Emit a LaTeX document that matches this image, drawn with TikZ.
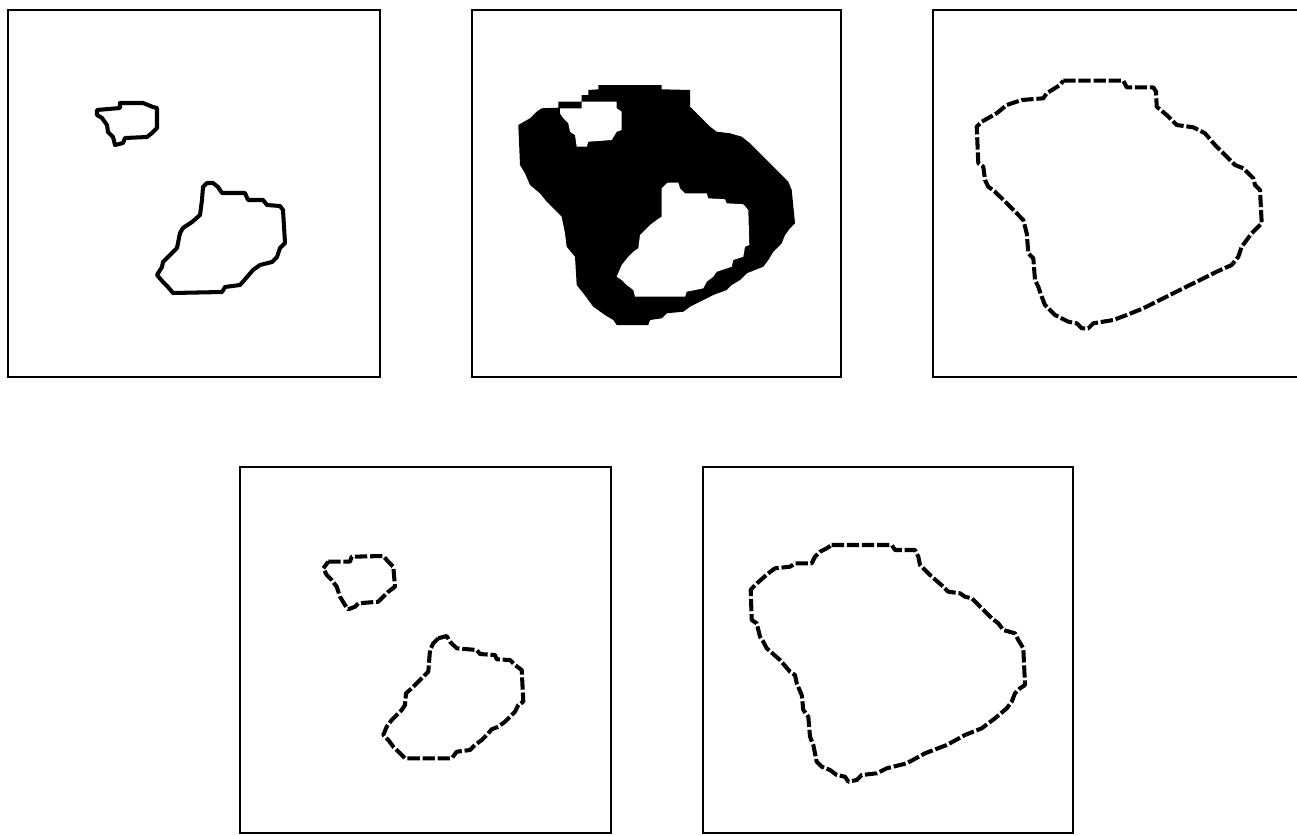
\documentclass[tikz,border=0pt]{standalone}
\usepackage{tikz}
\usetikzlibrary{calc}
\tikzset{
  imgframe/.style={draw=black, line width=1.1pt},
  contour/.style={draw=black, line width=2.3pt, line join=round},
  dotcontour/.style={contour, dash pattern=on 7pt off 1.6pt},
  blob/.style={fill=black},
  hole/.style={fill=white},
}
\begin{document}
\begin{tikzpicture}[x=0.02cm, y=-0.02cm]
  \useasboundingbox (0,0) rectangle (1297,835);
  % frames
  \draw[imgframe] (8,10) rectangle (380,377);
  \draw[imgframe] (472,10) rectangle (841,377);
  \draw[imgframe] (1297,10) -- (933,10) -- (933,377) -- (1297,377);
  \draw[imgframe] (240,467) rectangle (611,833);
  \draw[imgframe] (703,467) rectangle (1073,833);
  % panel 1: two regions
  \draw[contour] (97,110) -- (120,108) -- (120,103) -- (143,103) -- (153,107) -- (157,108)
    -- (157,128) -- (152,133) -- (147,137) -- (125,138) -- (123,143) -- (115,145)
    -- (113,137) -- (108,132) -- (107,125) -- (102,118) -- (97,115) -- cycle;
  \draw[contour] (207,183) -- (213,183) -- (218,187) -- (222,193) -- (245,193) -- (248,200)
    -- (263,200) -- (267,205) -- (280,206) -- (283,210) -- (285,243) -- (280,248)
    -- (277,257) -- (272,262) -- (260,265) -- (253,270) -- (247,277) -- (240,285)
    -- (225,287) -- (222,292) -- (173,293) -- (168,287) -- (163,282) -- (157,275)
    -- (162,267) -- (163,262) -- (172,253) -- (177,248) -- (180,233) -- (183,228)
    -- (192,222) -- (200,215) -- (202,200) -- (203,187) -- cycle;
  % panel 2: filled band with two holes
  \fill[blob] (588.3,90) -- (598.3,89.3) -- (598.3,85) -- (661.7,85) -- (661.7,89.3)
    -- (690,90) -- (690,106.7) -- (696.7,113.3) -- (703.3,120) -- (710,126.7)
    -- (716.7,131.7) -- (730,133.3) -- (741.7,136.7) -- (750,143.3) -- (760,153.3)
    -- (770,163.3) -- (780,173.3) -- (788.3,181.7) -- (791.7,190) -- (795,223.3)
    -- (790,228.3) -- (785,235) -- (781.7,243.3) -- (773.3,251.7) -- (768.3,260)
    -- (763.3,266.7) -- (746.7,273.3) -- (740,280) -- (731.7,285) -- (726.7,290)
    -- (713.3,295) -- (700,301.7) -- (690,306.7) -- (683.3,311.7) -- (666.7,313.3)
    -- (661.7,318.3) -- (650,320) -- (648.3,325) -- (616.7,325) -- (613.3,320)
    -- (605,315) -- (593.3,306.7) -- (583.3,293.3)
    -- (576.7,285) -- (575,256.7) -- (566.7,246.7) -- (565,233.3) -- (561.7,216.7)
    -- (555,210) -- (546.7,201.7) -- (540,193.3) -- (530,185) -- (525,173.3)
    -- (520,165) -- (518.3,125) -- (530,118.3) -- (536.7,111.7) -- (541.7,108.3)
    -- (558.3,107.7) -- (558.3,101.7) -- (581.7,101.7) -- (581.7,95) -- (588.3,95) -- cycle;
  \fill[hole] (560,108.3) -- (581.7,108.3) -- (581.7,101.7) -- (616.7,101.7) -- (616.7,108.3)
    -- (621.7,111.7) -- (621.7,130) -- (616.7,131.7) -- (611.7,140) -- (588.3,141.7)
    -- (586.7,146.7) -- (576.7,146.7) -- (575,135) -- (570,131.7) -- (568.3,123.3)
    -- (563.3,118.3) -- (560,113.3) -- cycle;
  \fill[hole] (666.7,183.3) -- (668.3,182.7) -- (678.3,182.7) -- (680,188.3) -- (685,193.3)
    -- (706.7,193.3) -- (708.3,198.3) -- (725,199.3) -- (726.7,203.3) -- (743.3,204.3)
    -- (748.3,210) -- (749.3,245) -- (745,246.7) -- (743.3,256.7) -- (733.3,260)
    -- (731.7,266.7) -- (716.7,271.7) -- (713.3,276.7) -- (706.7,281.7) -- (703.3,288.3)
    -- (686.7,291.7) -- (685,296.7) -- (635,296.7) -- (633.3,290) -- (626.7,285)
    -- (621.7,280) -- (616.7,276.7) -- (621.7,265) -- (628.3,256.7) -- (633.3,251.7)
    -- (638.3,248.3) -- (640,235) -- (645,230) -- (650,225) -- (656.7,220)
    -- (661.7,216.7) -- (661.7,188.3) -- cycle;
  % panel 3: outer contour
  \draw[dotcontour] (1063.3,80.7) -- (1123.3,80.7) -- (1126.7,87.3) -- (1153.3,87.3)
    -- (1156,91.7) -- (1156.7,106.7) -- (1166.7,115) -- (1176.7,125) -- (1193.3,127.3)
    -- (1205,133.3) -- (1215,145) -- (1225,155) -- (1235,165) -- (1243.3,168.3)
    -- (1253.3,178.3) -- (1255,185) -- (1260,190) -- (1261.7,223.3) -- (1251.7,233.3)
    -- (1246.7,240) -- (1241.7,246.7) -- (1238.3,256.7) -- (1231.7,265) -- (1216.7,271.7)
    -- (1200,280) -- (1183.3,288.3) -- (1163.3,298.3) -- (1143.3,308.3) -- (1126.7,315)
    -- (1113.3,320) -- (1093.3,323.3) -- (1088.3,328.3) -- (1081.7,328.3) -- (1076.7,323.3)
    -- (1068.3,321.7) -- (1055,315) -- (1045,305) -- (1041.7,296.7) -- (1038.3,286.7)
    -- (1035,280) -- (1033.3,258.3) -- (1028.3,253.3) -- (1026.7,233.3) -- (1023.3,220)
    -- (1016.7,213.3) -- (1006.7,203.3) -- (995,191.7) -- (988.3,186.7) -- (985,180)
    -- (983.3,166.7) -- (978.3,163.3) -- (976.7,126.7) -- (981.7,121.7) -- (996.7,113.3)
    -- (1006.7,105) -- (1021.7,100) -- (1043.3,98.3) -- (1046.7,93.3) -- (1060,85) -- cycle;
  % panel 4: two regions again
  \draw[dotcontour] (328.3,561.7) -- (350,561.7) -- (351.7,556.7) -- (383.3,556)
    -- (388.3,561.7) -- (393.3,566.7) -- (395,586.7) -- (388.3,591.7) -- (383.3,596.7)
    -- (378.3,601.7) -- (358.3,603.3) -- (355,606.7) -- (348.3,609.3) -- (345,605)
    -- (340,596.7) -- (336.7,586.7) -- (331.7,580) -- (326.7,575) -- (323.3,568.3) -- cycle;
  \draw[dotcontour] (438.3,638.3) -- (446.7,636) -- (450,641.7) -- (456.7,648.3)
    -- (476.7,650) -- (480,654) -- (495,655) -- (496.7,659.3) -- (510,660) -- (515,665)
    -- (521.7,670) -- (523.3,701.7) -- (518.3,705) -- (515,711.7) -- (510,716.7)
    -- (505,721.7) -- (498.3,726.7) -- (491.7,729.3) -- (486.7,735) -- (481.7,740)
    -- (475,745) -- (470,750) -- (456.7,751.7) -- (451.7,758.3) -- (405,758.3)
    -- (400,753.3) -- (393.3,746.7) -- (388.3,740) -- (383.3,735) -- (386.7,726.7)
    -- (391.7,720) -- (396.7,715) -- (401.7,710) -- (405,705) -- (406,693.3)
    -- (411.7,688.3) -- (416.7,683.3) -- (421.7,678.3) -- (428.3,671.7) -- (430,650)
    -- (433.3,643.3) -- cycle;
  % panel 5: outer contour again
  \draw[dotcontour] (831.7,545) -- (891.7,545) -- (895,550) -- (915,550) -- (918.3,556.7)
    -- (920,565) -- (930,575) -- (943.3,586.7) -- (948.3,591.7) -- (960,593.3)
    -- (965,596.7) -- (971.7,598.3) -- (981.7,608.3) -- (991.7,618.3) -- (998.3,623.3)
    -- (1003.3,630) -- (1015,633.3) -- (1018.3,640) -- (1023.3,648.3) -- (1025,685)
    -- (1020,688.3) -- (1015,693.3) -- (1011.7,701.7) -- (1006.7,708.3) -- (995,718.3)
    -- (981.7,728.3) -- (965,735) -- (946.7,745) -- (925,753.3) -- (906.7,763.3)
    -- (886.7,768.3) -- (876.7,773.3) -- (861.7,775) -- (856.7,780) -- (848.3,781.7)
    -- (845,776.7) -- (836.7,775) -- (830,770) -- (821.7,766.7) -- (816.7,761.7)
    -- (815,753.3) -- (813.3,745) -- (810,736.7) -- (808.3,716.7) -- (803.3,710)
    -- (801.7,695) -- (796.7,683.3) -- (795,675) -- (790,671.7) -- (780,660)
    -- (766.7,648.3) -- (763.3,641.7) -- (760,636.7) -- (756.7,623.3) -- (751.7,620)
    -- (750.7,590) -- (755,585) -- (768.3,573.3) -- (775,568.3) -- (790,566.7)
    -- (795,563.3) -- (811.7,563.3) -- (815,556.7) -- (820,551.7) -- (826.7,548.3) -- cycle;
\end{tikzpicture}
\end{document}
